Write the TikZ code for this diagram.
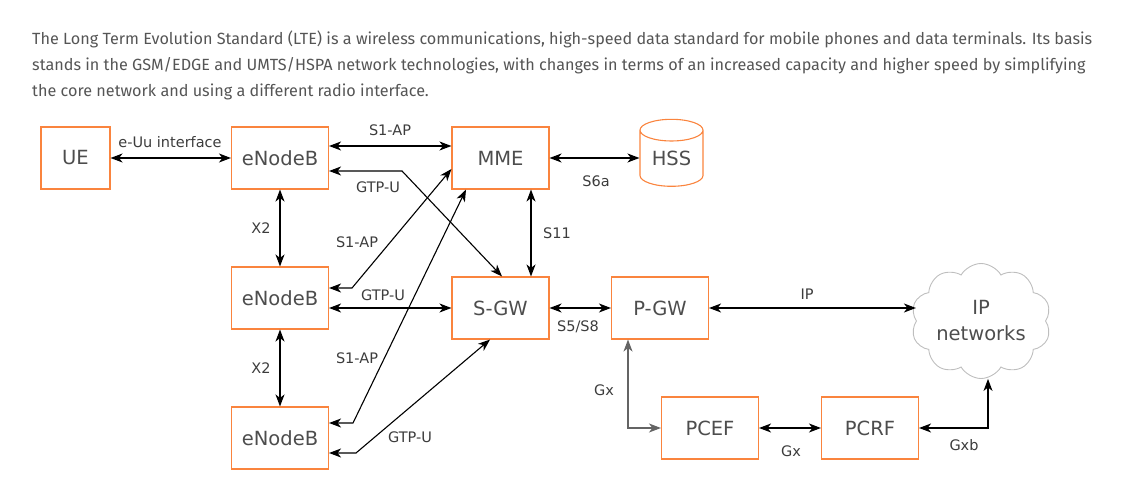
\documentclass[tikz,border=0pt]{standalone}
\usepackage{fontspec}
\setmainfont{DejaVu Sans}
\newfontfamily\firafont{Fira Sans}
\usetikzlibrary{arrows.meta,shapes.geometric,shapes.symbols,calc}
\definecolor{boxorange}{RGB}{250,132,62}
\definecolor{boxtext}{RGB}{77,77,77}
\definecolor{labeltext}{RGB}{60,60,60}
\definecolor{bodytext}{RGB}{85,85,85}
\definecolor{cloudgray}{RGB}{190,190,190}
\definecolor{linegray}{RGB}{100,100,100}
\begin{document}
\begin{tikzpicture}[x=1pt,y=-1pt,
  elem/.style={draw=boxorange,line width=1.1pt,fill=white,minimum width=97pt,minimum height=62pt,inner sep=0pt,text=boxtext,font=\fontsize{19.5}{22}\selectfont},
  conn/.style={line width=1.1pt,{Stealth[length=12pt,width=9pt,inset=3.5pt]}-{Stealth[length=12pt,width=9pt,inset=3.5pt]}},
  lbl/.style={text=labeltext,font=\fontsize{14.5}{17}\selectfont,inner sep=0pt},
  para/.style={anchor=base west,text=bodytext,inner sep=0pt,font=\firafont\fontsize{16.2}{20}\selectfont}]
\useasboundingbox (0,0) rectangle (1142,502);
% paragraph
\node[para] (p1) at (32,45) {The Long Term Evolution Standard (LTE) is a wireless communications, high-speed data standard for mobile phones and data terminals. Its basis};
\node[para] (p2) at (32,71) {stands in the GSM/EDGE and UMTS/HSPA network technologies, with changes in terms of an increased capacity and higher speed by simplifying};
\node[para] (p3) at (32,97) {the core network and using a different radio interface.};
% nodes
\node[elem,minimum width=69pt] (ue) at (75.5,158) {UE};
\node[elem] (enb1) at (280,158) {eNodeB};
\node[elem] (mme) at (500.5,158) {MME};
\node[elem] (enb2) at (280,298) {eNodeB};
\node[elem] (sgw) at (500.5,308) {S-GW};
\node[elem] (enb3) at (280,438) {eNodeB};
\node[elem] (pgw) at (660,308) {P-GW};
\node[elem] (pcef) at (710,428) {PCEF};
\node[elem] (pcrf) at (870,428) {PCRF};
\node[draw=boxorange,line width=1.1pt,cylinder,shape border rotate=90,aspect=0.55,minimum width=63pt,minimum height=67pt,inner sep=0pt,text=boxtext,font=\fontsize{19.5}{22}\selectfont] (hss) at (671.5,158.5) {HSS};
\node[draw=cloudgray,line width=0.9pt,cloud,cloud puffs=10,cloud puff arc=120,aspect=1.3,minimum width=140pt,minimum height=110pt,inner sep=0pt,align=center,text=boxtext,font=\fontsize{19.5}{26}\selectfont] (cloud) at (981,321) {IP\\networks};
% bend coordinates
\coordinate (g1) at (402,171);
\coordinate (s2) at (352,288);
\coordinate (s3) at (353,423);
\coordinate (g3) at (356,453);
\coordinate (gx) at (628,428);
\coordinate (gxb) at (988,428);
% connectors
\draw[conn] (ue.east) -- (enb1.west);
\draw[conn] ($(enb1.east)+(0,-12)$) -- ($(mme.west)+(0,-12)$);
\draw[conn] ($(enb1.east)+(0,13)$) -- (g1) -- ($(sgw.north)+(1.5,0)$);
\draw[conn] (enb1.south) -- (enb2.north);
\draw[conn] (enb2.south) -- (enb3.north);
\draw[conn] ($(mme.south)+(30.5,0)$) -- ($(sgw.north)+(30.5,0)$);
\draw[conn] ($(enb2.east)+(0,-10)$) -- (s2) -- ($(mme.west)+(0,11)$);
\draw[conn] ($(enb3.east)+(0,-15)$) -- (s3) -- ($(mme.south)+(-34.5,0)$);
\draw[conn] (enb2.east |- sgw.west) -- (sgw.west);
\draw[conn] ($(enb3.east)+(0,15)$) -- (g3) -- ($(sgw.south)+(-10.5,0)$);
\draw[conn] (mme.east) -- (hss.west |- mme.east);
\draw[conn] (sgw.east) -- (pgw.west);
\draw[conn] (pgw.east) -- (pgw.east -| cloud.west);
\draw[conn,draw=linegray] ($(pgw.south)+(-32,0)$) -- (gx) -- (pcef.west);
\draw[conn] (pcef.east) -- (pcrf.west);
\draw[conn] (pcrf.east) -- (gxb) -- (gxb |- cloud.south);
% labels
\node[lbl] (l1) at (170,142) {e-Uu interface};
\node[lbl] (l2) at (390,130) {S1-AP};
\node[lbl] (l3) at (378,187) {GTP-U};
\node[lbl] (l4) at (261,228) {X2};
\node[lbl] (l5) at (261,368) {X2};
\node[lbl] (l6) at (557,233) {S11};
\node[lbl] (l7) at (357,242) {S1-AP};
\node[lbl] (l8) at (383,295) {GTP-U};
\node[lbl] (l9) at (357,358) {S1-AP};
\node[lbl] (l10) at (410,437) {GTP-U};
\node[lbl] (l11) at (596,181) {S6a};
\node[lbl] (l12) at (578,327) {S5/S8};
\node[lbl] (l13) at (807,294) {IP};
\node[lbl] (l14) at (604,390) {Gx};
\node[lbl] (l15) at (791,451) {Gx};
\node[lbl] (l16) at (964,445) {Gxb};
\end{tikzpicture}
\end{document}
